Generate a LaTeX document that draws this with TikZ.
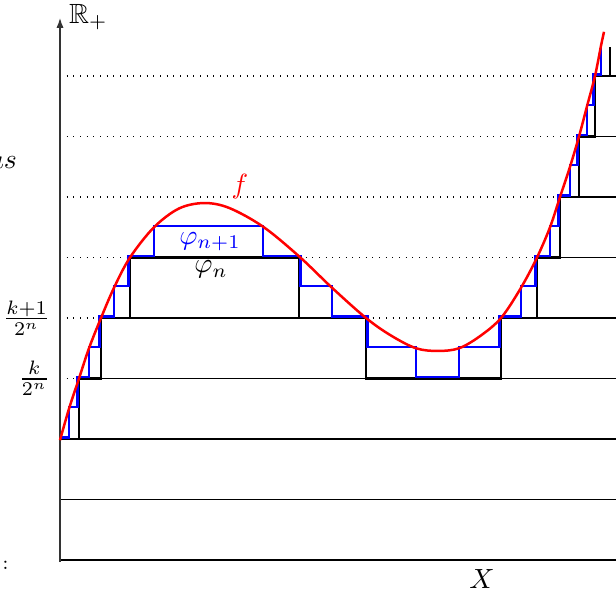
\documentclass[tikz,border=0pt]{standalone}
\usepackage{amssymb}
\usetikzlibrary{arrows.meta}
\begin{document}
\begin{tikzpicture}[x=0.36pt, y=21.78pt,
  thinline/.style={line width=0.4pt, black},
  dotline/.style={line width=0.4pt, black, dotted},
  axisline/.style={line width=0.5pt, black!80},
  phin/.style={line width=1pt, black},
  phinn/.style={line width=0.75pt, blue},
  fcurve/.style={line width=0.9pt, red},
  lbl/.style={inner sep=0pt, outer sep=0pt}]
\useasboundingbox (0,-0.5785) rectangle (616,9.256);
\clip (0,-0.5785) rectangle (616,9.256);
% level lines
\draw[thinline] (60,1) -- (616,1);
\draw[thinline] (60,2) -- (616,2);
\draw[dotline] (60,3) -- (79,3);
\draw[thinline] (79,3) -- (616,3);
\draw[dotline] (60,4) -- (101,4);
\draw[thinline] (101,4) -- (366,4);
\draw[dotline] (366,4) -- (501,4);
\draw[thinline] (501,4) -- (616,4);
\draw[dotline] (60,5) -- (130,5);
\draw[thinline] (130,5) -- (299,5);
\draw[dotline] (299,5) -- (537,5);
\draw[thinline] (537,5) -- (616,5);
\draw[dotline] (60,6) -- (560,6);
\draw[thinline] (560,6) -- (616,6);
\draw[dotline] (60,7) -- (579,7);
\draw[thinline] (579,7) -- (616,7);
\draw[dotline] (60,8) -- (595,8);
\draw[thinline] (595,8) -- (616,8);
% axes
\draw[line width=0.6pt] (60,0) -- (616,0);
\draw[axisline, -{Latex[length=3.6pt,width=2.6pt]}] (60,-0.033) -- (60,8.96);
% phi_n
\draw[phin] (60,2) -- (79,2) -- (79,3) -- (101,3) -- (101,4) -- (130,4) -- (130,5)
  -- (299,5) -- (299,4) -- (366,4) -- (366,3) -- (501,3) -- (501,4) -- (537,4)
  -- (537,5) -- (560,5) -- (560,6) -- (579,6) -- (579,7) -- (595,7) -- (595,8)
  -- (610,8) -- (610,8.48);
% phi_{n+1}
\draw[phinn] (61.5,2.025) -- (69,2.025) -- (69,2.525) -- (77.5,2.525) -- (77.5,3.025)
  -- (89,3.025) -- (89,3.525) -- (99.5,3.525) -- (99.5,4.025) -- (114,4.025)
  -- (114,4.525) -- (128.5,4.525) -- (128.5,5.025) -- (154,5.025) -- (154,5.525)
  -- (263,5.525) -- (263,5.025) -- (300.5,5.025) -- (300.5,4.525) -- (332,4.525)
  -- (332,4.025) -- (367.5,4.025) -- (367.5,3.525) -- (416,3.525) -- (416,3.025)
  -- (459,3.025) -- (459,3.525) -- (499.5,3.525) -- (499.5,4.025) -- (521,4.025)
  -- (521,4.525) -- (535.5,4.525) -- (535.5,5.025) -- (550,5.025) -- (550,5.525)
  -- (558.5,5.525) -- (558.5,6.025) -- (570,6.025) -- (570,6.525) -- (577.5,6.525)
  -- (577.5,7.025) -- (587,7.025) -- (587,7.525) -- (593.5,7.525) -- (593.5,8.025)
  -- (601,8.025) -- (601,8.48);
% f
\draw[fcurve] plot[smooth, tension=0.55] coordinates {(60,1.98) (69,2.5) (79,3) (89,3.5)
  (101,4) (114,4.5) (130,5) (154,5.5) (179,5.81) (204,5.9) (229,5.82) (263,5.51)
  (299,5.02) (332,4.5) (366,4) (391,3.71) (416,3.5) (438,3.455) (459,3.5) (480,3.7)
  (501,4) (521,4.5) (537,5) (550,5.5) (560,6) (570,6.5) (579,7) (587,7.5) (595,8)
  (601,8.5) (604,8.73)};
% labels
\node[lbl, anchor=base west] (Rp) at (69,8.87) {$\mathbb{R}_+$};
\node[lbl, anchor=base] (Xl) at (482,-0.463) {$X$};
\node[lbl, anchor=base, text=red] (fl) at (240,6.066) {$f$};
\node[lbl, anchor=base, text=blue] (phinnl) at (210,5.223) {$\varphi_{n+1}$};
\node[lbl, anchor=base] (phinl) at (211,4.744) {$\varphi_n$};
\node[lbl, anchor=east] (kp1) at (50,4) {$\frac{k+1}{2^n}$};
\node[lbl, anchor=east] (k) at (50,3) {$\frac{k}{2^n}$};
\node[lbl, anchor=base east] (as) at (17,6.479) {$as$};
\node[lbl, anchor=base, font=\scriptsize] (colon) at (5.5,-0.15) {:};
\end{tikzpicture}
\end{document}
